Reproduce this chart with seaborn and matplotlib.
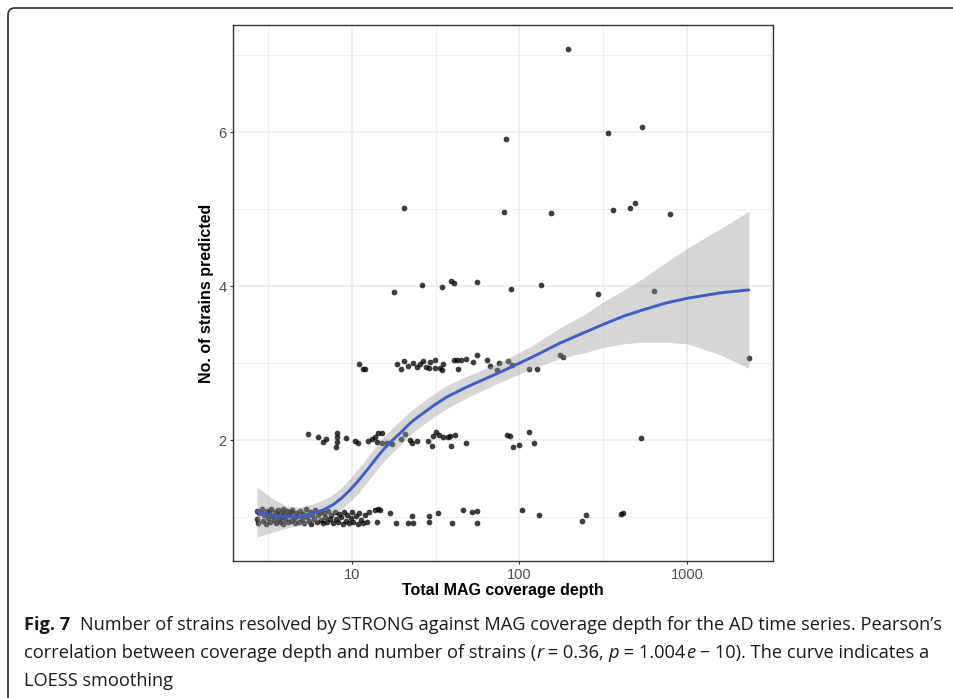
import numpy as np
import pandas as pd
import seaborn as sns
import matplotlib
matplotlib.use("Agg")
import matplotlib.pyplot as plt
from matplotlib.patches import FancyBboxPatch
from matplotlib.transforms import IdentityTransform
from matplotlib.ticker import FixedLocator, NullFormatter, FixedFormatter
from matplotlib import font_manager as fm

# ---------------- data: MAG coverage depth vs. strains predicted (jittered) ----------------
coverage_one = [2.71, 2.71, 2.73, 2.80, 2.90, 2.95, 3.00, 3.05, 3.10, 3.15, 3.20, 3.25, 3.30,
                3.35, 3.40, 3.45, 3.50, 3.55, 3.60, 3.65, 3.70, 3.75, 3.80, 3.85, 3.90, 3.95,
                4.00, 4.10, 4.15, 4.20, 4.30, 4.35, 4.40, 4.50, 4.55, 4.60, 4.70, 4.80, 4.90,
                5.00, 5.10, 5.20, 5.30, 5.40, 5.50, 5.60, 5.70, 5.80, 5.90, 6.00, 6.20, 6.30,
                6.40, 6.50, 6.70, 6.80, 6.90, 7.10, 7.20, 7.40, 7.50, 7.70, 7.90, 8.00, 8.20,
                8.40, 8.60, 8.80, 9.00, 9.20, 9.40, 9.60, 9.80, 10.0, 10.2, 10.5, 10.8, 11.0,
                11.3, 11.6, 12.0, 12.3, 12.6,
                13.7, 14.3, 14.1, 14.7, 16.9, 18.3, 21.6, 22.7, 23.2, 28.9, 28.9, 32.6, 39.5,
                46.0, 52.0, 55.6, 55.6, 104, 131, 236, 248, 404, 416]
strains_one = [1.08, 0.98, 0.92, 1.05, 1.10, 0.95, 1.02, 0.91, 1.08, 0.99, 1.06, 0.93, 1.10,
               1.01, 0.96, 1.07, 0.92, 1.03, 1.09, 0.97, 0.94, 1.05, 1.00, 1.10, 0.91, 1.04,
               0.97, 1.08, 0.93, 1.02, 1.06, 0.95, 1.09, 0.99, 0.92, 1.05, 1.01, 0.94, 1.08,
               0.97, 1.04, 0.92, 1.10, 1.00, 0.95, 1.06, 0.91, 1.03, 0.98, 1.09, 0.94, 1.02,
               1.07, 0.96, 0.92, 1.05, 1.00, 0.94, 1.08, 0.97, 1.03, 0.92, 1.06, 0.98, 0.93,
               1.04, 1.00, 0.91, 1.07, 0.95, 1.02, 0.92, 0.99, 1.06, 0.94, 1.01, 0.91, 1.05,
               0.96, 0.92, 1.03, 0.93, 1.07,
               1.09, 1.10, 0.94, 1.09, 1.05, 0.92, 0.92, 1.01, 0.92, 1.01, 0.94, 1.05, 0.92,
               1.09, 1.06, 1.08, 0.92, 1.09, 1.03, 0.95, 1.03, 1.04, 1.05]

coverage_two = [5.46, 6.27, 6.71, 6.99, 8.13, 8.13, 8.13, 8.03, 9.2, 10.4, 10.9, 12.5, 13.2,
                13.7, 14.3, 15.1, 14.1, 15.1, 16.2, 17.3, 19.6, 20.7, 22.2, 22.8, 24.5, 28.4,
                30.0, 30.5, 31.7, 33.0, 34.9, 37.4, 38.5, 39.0, 41.2, 47.9, 84.3, 87.8, 91.5,
                99.0, 114, 122, 530]
strains_two = [2.08, 2.04, 1.97, 2.01, 2.09, 2.04, 1.97, 1.91, 2.03, 1.99, 1.96, 1.99, 2.01,
               2.04, 2.09, 2.09, 1.97, 1.96, 1.96, 1.95, 2.01, 2.08, 2.00, 1.96, 1.99, 1.99,
               1.92, 2.05, 2.10, 2.06, 2.04, 2.04, 2.05, 1.92, 2.06, 1.96, 2.06, 2.05, 1.91,
               1.94, 2.10, 1.96, 2.03]

coverage_three = [11.0, 11.6, 12.0, 18.5, 19.6, 20.4, 21.6, 23.1, 24.5, 25.5, 26.6, 27.7, 28.9,
                  29.2, 31.3, 31.3, 33.5, 34.4, 35.0, 40.6, 42.1, 42.9, 44.8, 47.9, 52.7, 55.6,
                  63.8, 66.7, 73.5, 75.6, 85.2, 90.0, 114, 128, 175, 182, 2340]
strains_three = [2.99, 2.92, 2.92, 2.99, 2.92, 3.03, 2.96, 3.00, 2.95, 2.99, 3.03, 2.95, 2.94,
                 3.01, 3.04, 2.94, 2.94, 2.91, 2.99, 3.04, 3.04, 2.92, 3.04, 3.05, 3.01, 3.10,
                 3.04, 2.96, 2.91, 3.00, 3.03, 2.97, 2.92, 2.92, 3.10, 3.08, 3.06]

coverage_four = [17.8, 26.2, 34.4, 39.0, 40.6, 55.7, 88.9, 134, 294, 635]
strains_four = [3.92, 4.01, 3.99, 4.06, 4.04, 4.05, 3.96, 4.01, 3.90, 3.94]

coverage_five = [20.4, 80.7, 154, 362, 457, 489, 793]
strains_five = [5.01, 4.96, 4.95, 4.99, 5.01, 5.08, 4.94]

coverage_six = [83.0, 337, 538]
strains_six = [5.91, 5.99, 6.06]

coverage_seven = [195]
strains_seven = [7.08]

# LOESS fit with its confidence band
loess_depth = [2.71, 3.33, 4.09, 4.90, 5.85, 6.71, 7.71, 8.72, 9.73, 10.9, 12.3, 13.7, 15.3,
               17.3, 19.4, 22.5, 26.6, 31.3, 36.9, 48.6, 76.6, 120, 175, 240, 315, 420, 546,
               750, 1000, 1570, 2340]
loess_fit = [1.07, 1.02, 1.00, 1.01, 1.05, 1.09, 1.16, 1.25, 1.35, 1.47, 1.61, 1.74, 1.87,
             1.99, 2.09, 2.23, 2.35, 2.46, 2.56, 2.69, 2.88, 3.08, 3.26, 3.39, 3.50, 3.61, 3.69,
             3.78, 3.84, 3.91, 3.95]
loess_lower = [0.74, 0.80, 0.86, 0.89, 0.93, 0.97, 1.03, 1.11, 1.20, 1.31, 1.45, 1.58, 1.71,
               1.83, 1.93, 2.08, 2.20, 2.31, 2.41, 2.55, 2.75, 2.93, 3.06, 3.13, 3.20, 3.25, 3.27,
               3.27, 3.25, 3.11, 2.93]
loess_upper = [1.39, 1.24, 1.14, 1.13, 1.17, 1.22, 1.29, 1.39, 1.50, 1.63, 1.77, 1.90, 2.03,
               2.15, 2.25, 2.38, 2.50, 2.61, 2.71, 2.83, 3.01, 3.23, 3.46, 3.62, 3.79, 3.95, 4.10,
               4.31, 4.49, 4.74, 4.97]

x_major = [10, 100, 1000]
x_major_labels = ["10", "100", "1000"]
y_major = [2, 4, 6]
y_major_labels = ["2", "4", "6"]

caption_tag = "Fig. 7"
caption_line1 = "Number of strains resolved by STRONG against MAG coverage depth for the AD time series. Pearson\u2019s"
caption_line2 = [("correlation between coverage depth and number of strains (", "normal"),
                 ("r", "italic"), (" = 0.36, ", "normal"), ("p", "italic"),
                 (" = 1.004", "normal"), ("e", "italic"),
                 (" \u2212 10). The curve indicates a", "normal")]
caption_line3 = "LOESS smoothing"

# ---------------- assemble ----------------
points = pd.concat([
    pd.DataFrame({"coverage": coverage_one, "strains": strains_one}),
    pd.DataFrame({"coverage": coverage_two, "strains": strains_two}),
    pd.DataFrame({"coverage": coverage_three, "strains": strains_three}),
    pd.DataFrame({"coverage": coverage_four, "strains": strains_four}),
    pd.DataFrame({"coverage": coverage_five, "strains": strains_five}),
    pd.DataFrame({"coverage": coverage_six, "strains": strains_six}),
    pd.DataFrame({"coverage": coverage_seven, "strains": strains_seven}),
], ignore_index=True)
smooth = pd.DataFrame({"coverage": loess_depth, "fit": loess_fit,
                       "lo": loess_lower, "hi": loess_upper})

sns.set_theme(style="white")
plt.rcParams["font.family"] = ["Liberation Sans", "DejaVu Sans"]


def has_font(name):
    try:
        fm.findfont(fm.FontProperties(family=name), fallback_to_default=False)
        return True
    except Exception:
        return False


cap_family = None
for cand in ["Liberation Sans Narrow", "Open Sans", "Liberation Sans"]:
    if has_font(cand):
        cap_family = cand
        break
cap_families = [cap_family, "DejaVu Sans"] if cap_family else ["DejaVu Sans"]

W, H = 954, 698
fig = plt.figure(figsize=(W / 100, H / 100), dpi=100)
fig.patch.set_facecolor("white")

# outer rounded frame around figure + caption
frame = FancyBboxPatch((8, -40), 1000, 730, boxstyle="round,pad=0,rounding_size=7",
                       transform=IdentityTransform(), fill=False, ec="#3c3c3c", lw=1.3)
fig.add_artist(frame)

ax = fig.add_axes([233 / W, 1 - 561 / H, 540 / W, 536 / H])
ax.set_xscale("log")

sns.scatterplot(data=points, x="coverage", y="strains", color="black", alpha=0.76,
                s=17, linewidth=0, ax=ax, zorder=2, legend=False)
ax.fill_between(smooth["coverage"], smooth["lo"], smooth["hi"], color="#999999",
                alpha=0.4, linewidth=0, zorder=3)
sns.lineplot(data=smooth, x="coverage", y="fit", color="#3b5fc4", lw=2.1, ax=ax,
             zorder=4, sort=True, estimator=None)

ax.set_xlim(10 ** 0.2896, 10 ** 3.5134)
ax.set_ylim(0.4286, 7.39)

ax.xaxis.set_major_locator(FixedLocator(x_major))
ax.xaxis.set_major_formatter(FixedFormatter(x_major_labels))
ax.xaxis.set_minor_locator(FixedLocator([10 ** 0.5, 10 ** 1.5, 10 ** 2.5, 10 ** 3.5]))
ax.xaxis.set_minor_formatter(NullFormatter())
ax.yaxis.set_major_locator(FixedLocator(y_major))
ax.yaxis.set_major_formatter(FixedFormatter(y_major_labels))
ax.yaxis.set_minor_locator(FixedLocator([1, 3, 5, 7]))

ax.set_axisbelow(True)
ax.grid(which="major", color="#ebebeb", lw=1.1)
ax.grid(which="minor", color="#ededed", lw=0.6)
for sp in ax.spines.values():
    sp.set_visible(True)
    sp.set_color("#333333")
    sp.set_linewidth(1.0)
ax.tick_params(which="major", direction="out", length=2.5, width=0.8, color="#333333",
               labelsize=10.5, labelcolor="#4d4d4d", pad=2.2, bottom=True, left=True)
ax.tick_params(which="minor", length=0, bottom=False, left=False)
ax.set_xlabel("")
ax.set_ylabel("")

fig.text(503 / W, 1 - 595 / H, "Total MAG coverage depth", ha="center", va="baseline",
         fontsize=11.5, fontweight="bold", color="black")
fig.text(207 / W, 1 - 293 / H, "No. of strains predicted", ha="center", va="center",
         rotation=90, fontsize=11.5, fontweight="bold", color="black")

# ---------------- caption ----------------
fig.canvas.draw()
rend = fig.canvas.get_renderer()


def text_width(s, size, weight="normal", style="normal"):
    probe = fig.text(0, 0, "|" + s + "|", fontsize=size, family=cap_families,
                     fontweight=weight, fontstyle=style)
    bar = fig.text(0, 0, "||", fontsize=size, family=cap_families,
                   fontweight=weight, fontstyle=style)
    w = probe.get_window_extent(rend).width - bar.get_window_extent(rend).width
    probe.remove()
    bar.remove()
    return w


base = 12.0
line1_w = text_width(caption_tag + "  ", base, weight="bold") + text_width(caption_line1, base)
cap_size = base * (941 - 24) / line1_w


def draw_segments(x0, y_px, segs):
    x = x0
    for s, kind in segs:
        weight = "bold" if kind == "bold" else "normal"
        style = "italic" if kind == "italic" else "normal"
        fig.text(x / W, 1 - y_px / H, s, fontsize=cap_size, family=cap_families,
                 fontweight=weight, fontstyle=style, ha="left", va="baseline", color="#1a1a1a")
        x += text_width(s, cap_size, weight=weight, style=style)


draw_segments(24, 630, [(caption_tag + "  ", "bold"), (caption_line1, "normal")])
draw_segments(24, 658, caption_line2)
draw_segments(24, 686, [(caption_line3, "normal")])

fig.savefig("out.png", dpi=100, facecolor="white")
